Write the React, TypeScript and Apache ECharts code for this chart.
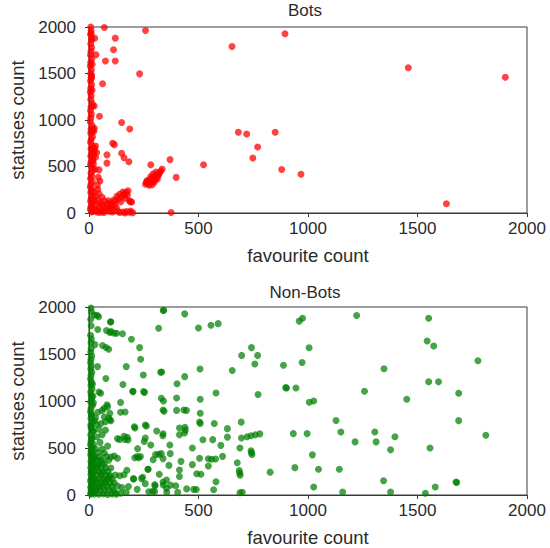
import React, { useEffect, useRef } from "react";
import * as echarts from "echarts";

const FONT = "'Liberation Sans', Arial, Helvetica, sans-serif";

const axisTicks = [0, 500, 1000, 1500, 2000];
const axisMin = 0;
const axisMax = 2000;
const axisInterval = 500;

const titles = ["Bots", "Non-Bots"];
const xName = "favourite count";
const yName = "statuses count";

// Bots: [favourite count, statuses count]
const botsSparse: [number, number][] = [
  [70, 1995], [258, 1962], [653, 1790], [895, 1928], [1458, 1562], [1901, 1459],
  [26, 1880], [120, 1880], [112, 1756], [32, 1702], [75, 1634], [120, 1634],
  [231, 1496], [62, 1390], [24, 1150], [48, 1040], [149, 973], [186, 903],
  [108, 749], [116, 735], [82, 625], [149, 643], [160, 595], [182, 552],
  [82, 536], [46, 464], [50, 344], [40, 255], [282, 519], [370, 574],
  [334, 472], [398, 383], [523, 519], [682, 869], [720, 849], [850, 869],
  [770, 709], [748, 591], [880, 468], [968, 416], [1632, 100], [375, 6],
];

const botsCluster: [number, number][] = [
  [258, 310], [262, 330], [268, 318], [272, 345], [278, 360], [285, 338],
  [290, 372], [296, 350], [300, 395], [305, 380], [310, 410], [316, 400],
  [322, 430], [328, 452], [275, 300], [288, 305], [298, 330], [312, 365],
  [265, 350], [282, 390], [306, 440], [318, 420], [292, 420], [302, 360],
];

const botsCore: [number, number][] = [
  [120, 130], [135, 150], [150, 175], [160, 200], [170, 220], [178, 240],
  [140, 200], [155, 225], [165, 160], [128, 180], [145, 120], [175, 190],
  [185, 130], [195, 118], [189, 122], [140, 5], [155, 10], [170, 15],
  [185, 8], [200, 3], [165, 0], [190, 20], [15, 20], [25, 40], [35, 10],
  [45, 60], [55, 30], [65, 80], [75, 50], [85, 100], [95, 20], [105, 70],
  [20, 120], [30, 90], [40, 140], [50, 110], [60, 15], [70, 130], [80, 25],
  [90, 60], [100, 110], [110, 40], [12, 60], [22, 140], [38, 30], [58, 95],
  [68, 5], [88, 130], [98, 85], [108, 10], [48, 5], [118, 90], [125, 60],
  [132, 20], [112, 140], [30, 180], [45, 210], [60, 170], [20, 230],
  [38, 300], [42, 385], [28, 470], [30, 600], [35, 650], [25, 690],
  [30, 720], [22, 880], [24, 910],
];

const botsEdge: [number, number][] = [
  [8, 2000], [10, 1960], [7, 1920], [11, 1860], [8, 1820], [12, 1780],
  [9, 1740], [7, 1700], [13, 1660], [8, 1620], [6, 1580], [11, 1540],
  [8, 1500], [10, 1460], [7, 1420], [12, 1380], [8, 1340], [6, 1300],
  [10, 1260], [8, 1220], [14, 1180], [9, 1140], [7, 1100], [11, 1060],
  [8, 1020], [6, 980], [14, 940], [9, 900], [8, 860], [16, 820], [10, 790],
  [7, 760], [15, 720], [9, 690], [18, 670], [12, 640], [8, 610], [17, 580],
  [10, 550], [7, 520], [14, 490], [18, 460], [9, 430], [12, 400], [7, 370],
  [15, 340], [9, 310], [6, 280], [13, 250], [8, 220], [16, 190], [10, 160],
  [7, 130], [14, 100], [9, 70], [6, 40], [12, 10], [22, 700], [20, 620],
  [18, 900], [16, 1150], [14, 1320], [12, 1480], [14, 1600], [12, 1880],
  [18, 560], [20, 530], [24, 660], [15, 870], [10, 1930], [11, 1450],
];

// Non-Bots: [favourite count, statuses count]
const nonBotsSparse: [number, number][] = [
  [339, 1962], [437, 1927], [318, 1774], [500, 1777], [557, 1806], [590, 1823],
  [24, 1915], [44, 1897], [100, 1844], [102, 1738], [126, 1720], [153, 1715],
  [194, 1657], [231, 1568], [236, 1444], [39, 1366], [170, 1366], [248, 1277],
  [327, 1306], [437, 1259], [507, 1340], [654, 1325], [697, 1485], [742, 1568],
  [770, 1485], [757, 1393], [77, 1240], [155, 1175], [201, 1100], [249, 1100],
  [254, 1092], [580, 1085], [772, 1070], [53, 1082], [330, 1029], [340, 1000],
  [400, 1032], [508, 1018], [144, 985], [338, 904], [343, 890], [400, 900],
  [433, 904], [445, 900], [508, 869], [95, 870], [95, 800], [144, 880],
  [165, 883], [69, 922], [505, 777], [508, 760], [572, 760], [695, 775],
  [207, 727], [257, 745], [262, 735], [413, 713], [438, 720], [440, 690],
  [436, 660], [632, 706], [632, 616], [696, 606], [722, 620], [740, 630],
  [760, 640], [780, 650], [257, 607], [252, 570], [309, 681], [338, 652],
  [337, 630], [413, 640], [565, 589], [520, 588], [602, 528], [472, 500],
  [689, 500], [740, 470], [742, 450], [744, 430], [164, 590], [178, 585],
  [282, 532], [369, 532], [222, 493], [330, 440], [304, 430], [318, 432],
  [338, 387], [371, 440], [209, 397], [227, 397], [293, 376], [545, 385],
  [560, 380], [578, 382], [610, 411], [505, 390], [420, 358], [472, 323],
  [545, 309], [677, 344], [365, 315], [492, 227], [511, 220], [269, 273],
  [321, 220], [413, 266], [245, 188], [204, 170], [240, 174], [413, 197],
  [354, 160], [686, 260], [688, 235], [690, 210], [580, 140], [827, 243],
  [302, 99], [339, 106], [354, 71], [396, 99], [446, 65], [478, 60],
  [490, 58], [569, 55], [700, 30], [689, 24], [273, 35], [290, 40],
  [300, 38], [355, 30], [405, 28], [257, 121], [300, 110], [338, 138],
  [372, 105], [173, 263], [270, 273], [140, 205], [160, 215], [203, 174],
  [150, 80], [180, 90], [220, 60], [120, 25], [145, 20], [170, 30],
  [100, 405], [115, 415], [130, 390], [220, 410], [235, 410], [130, 600],
  [140, 590], [160, 625], [175, 615], [98, 1841], [37, 1912], [40, 1760],
  [80, 1750], [95, 1730], [115, 1720], [27, 1600], [62, 1590], [78, 1570],
  [90, 1550], [45, 1095], [82, 960], [85, 940], [70, 830], [90, 820],
  [75, 780], [100, 790], [30, 820], [35, 750], [210, 713], [341, 1965],
  [332, 1309], [402, 1184], [200, 1103],
  [960, 1850], [975, 1880], [1222, 1910], [1551, 1880], [1544, 1639],
  [1574, 1586], [1776, 1429], [1005, 1567], [973, 1410], [888, 1380],
  [1347, 1344], [1551, 1205], [1596, 1205], [1688, 1082], [1451, 1018],
  [1258, 1103], [902, 1139], [945, 1139], [1006, 986], [1026, 1000],
  [1128, 793], [1688, 791], [1812, 635], [933, 653], [996, 653], [1150, 670],
  [1305, 670], [1397, 620], [1215, 565], [1311, 565], [1557, 500], [1377, 482],
  [1020, 427], [940, 291], [1048, 273], [1143, 273], [1345, 152], [1676, 138],
  [1679, 133], [1581, 85], [1026, 85], [1158, 32], [1377, 32], [1536, 18],
  [898, 1142],
];

const nonBotsCore: [number, number][] = [
  [10, 10], [25, 12], [45, 8], [65, 14], [85, 6], [105, 11], [125, 9],
  [12, 50], [30, 47], [50, 52], [70, 49], [90, 53], [110, 48],
  [10, 90], [25, 93], [45, 88], [65, 91], [85, 87], [105, 92], [130, 95],
  [15, 130], [35, 128], [55, 133], [75, 127], [95, 131], [115, 129],
  [10, 170], [25, 168], [45, 173], [65, 169], [85, 172], [105, 167],
  [15, 210], [35, 212], [55, 207], [75, 211], [95, 209], [120, 213],
  [10, 250], [25, 248], [45, 253], [65, 247], [85, 252],
  [15, 290], [35, 292], [55, 287], [75, 291], [100, 288],
  [10, 330], [25, 333], [45, 328], [70, 331],
  [15, 370], [35, 368], [55, 373], [90, 369],
  [10, 410], [25, 412], [50, 407],
  [15, 450], [40, 452], [70, 447],
  [10, 490], [30, 493], [60, 488], [85, 520], [20, 540], [50, 560],
  [12, 600], [35, 620], [60, 640], [20, 680], [45, 700], [75, 690],
  [10, 730], [55, 760], [25, 790], [12, 850], [40, 880], [60, 900],
  [15, 30], [35, 70], [55, 110], [75, 150], [95, 190], [35, 150],
  [55, 230], [20, 270], [40, 310], [60, 350], [30, 390], [80, 410],
];

const nonBotsEdge: [number, number][] = [
  [9, 1990], [11, 1950], [8, 1870], [10, 1800], [7, 1700], [11, 1660],
  [9, 1620], [10, 1560], [8, 1520], [12, 1480], [9, 1445], [7, 1410],
  [10, 1375], [8, 1340], [13, 1305], [9, 1270], [7, 1235], [11, 1200],
  [9, 1165], [14, 1130], [8, 1095], [10, 1060], [12, 1025], [8, 990],
  [16, 955], [9, 920], [7, 885], [12, 850], [9, 815], [15, 780],
  [8, 745], [10, 710], [18, 675], [8, 640], [13, 605], [9, 570],
  [7, 535], [15, 500], [10, 465], [8, 430], [18, 395], [9, 360],
  [14, 325], [8, 290], [11, 255], [9, 220], [16, 185], [7, 150],
  [12, 115], [8, 80], [10, 45], [7, 15], [18, 1050], [20, 980], [16, 1180],
];

const App: React.FC = () => {
  const ref = useRef<HTMLDivElement>(null);

  useEffect(() => {
    if (!ref.current) return;
    const chart = echarts.init(ref.current, null, { renderer: "svg" });
    const frame = "#3a3a3a";
    const textColor = "#2b2b2b";
    const fmt = (v: number) => (axisTicks.includes(v) ? String(v) : "");

    const makeX = (gridIndex: number) => ({
      type: "value",
      gridIndex,
      min: axisMin,
      max: axisMax,
      interval: axisInterval,
      name: xName,
      nameLocation: "middle",
      nameGap: 33,
      nameTextStyle: { fontSize: 18.5, color: textColor, fontFamily: FONT },
      axisLine: { show: true, onZero: false, lineStyle: { color: frame, width: 1 } },
      axisTick: { show: true, length: 4, inside: false, lineStyle: { color: frame } },
      splitLine: { show: false },
      axisLabel: {
        fontSize: 17,
        color: textColor,
        fontFamily: FONT,
        margin: 7,
        formatter: fmt,
      },
    });
    const makeY = (gridIndex: number) => ({
      type: "value",
      gridIndex,
      min: axisMin,
      max: axisMax,
      interval: axisInterval,
      name: yName,
      nameLocation: "middle",
      nameGap: 62,
      nameTextStyle: { fontSize: 18.5, color: textColor, fontFamily: FONT },
      axisLine: { show: true, onZero: false, lineStyle: { color: frame, width: 1 } },
      axisTick: { show: true, length: 4, inside: false, lineStyle: { color: frame } },
      splitLine: { show: false },
      axisLabel: {
        fontSize: 17,
        color: textColor,
        fontFamily: FONT,
        margin: 13,
        formatter: fmt,
      },
    });

    const red = "rgba(255, 0, 0, 0.92)";
    const green = "rgba(0, 128, 0, 0.9)";
    const size = 7;

    chart.setOption({
      animation: false,
      backgroundColor: "#ffffff",
      graphic: [
        {
          type: "text",
          x: 305,
          y: 2,
          style: {
            text: titles[0],
            fill: textColor,
            font: `17px ${FONT}`,
            align: "center",
            verticalAlign: "top",
          },
        },
        {
          type: "text",
          x: 305,
          y: 284,
          style: {
            text: titles[1],
            fill: textColor,
            font: `17px ${FONT}`,
            align: "center",
            verticalAlign: "top",
          },
        },
      ],
      grid: [
        { left: 83, top: 27, width: 444, height: 186, show: true, borderColor: frame, borderWidth: 1, backgroundColor: "transparent" },
        { left: 83, top: 307, width: 444, height: 188, show: true, borderColor: frame, borderWidth: 1, backgroundColor: "transparent" },
      ],
      xAxis: [makeX(0), makeX(1)],
      yAxis: [makeY(0), makeY(1)],
      series: [
        { type: "scatter", xAxisIndex: 0, yAxisIndex: 0, symbolSize: size, itemStyle: { color: red }, data: botsEdge },
        { type: "scatter", xAxisIndex: 0, yAxisIndex: 0, symbolSize: size, itemStyle: { color: red }, data: botsCore },
        { type: "scatter", xAxisIndex: 0, yAxisIndex: 0, symbolSize: size, itemStyle: { color: red }, data: botsCluster },
        { type: "scatter", xAxisIndex: 0, yAxisIndex: 0, symbolSize: size, itemStyle: { color: red }, data: botsSparse },
        { type: "scatter", xAxisIndex: 1, yAxisIndex: 1, symbolSize: size, itemStyle: { color: green }, data: nonBotsEdge },
        { type: "scatter", xAxisIndex: 1, yAxisIndex: 1, symbolSize: size, itemStyle: { color: green }, data: nonBotsCore },
        { type: "scatter", xAxisIndex: 1, yAxisIndex: 1, symbolSize: size, itemStyle: { color: green }, data: nonBotsSparse },
      ],
    });

    return () => chart.dispose();
  }, []);

  return (
    <div
      ref={ref}
      style={{ position: "fixed", left: 0, top: 0, width: 550, height: 548, background: "#fff" }}
    />
  );
};

export default App;
